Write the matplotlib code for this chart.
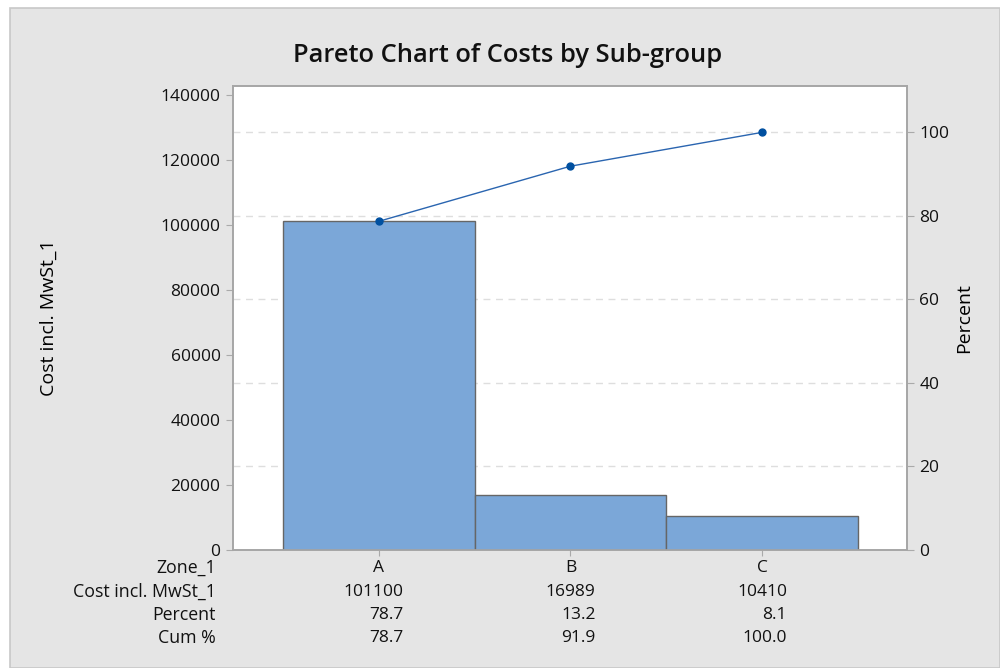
import matplotlib
matplotlib.use("Agg")
import matplotlib.pyplot as plt
from matplotlib.patches import Rectangle
import numpy as np

categories = ["A", "B", "C"]
costs = [101100, 16989, 10410]
percent = [78.7, 13.2, 8.1]
cum_pct = [78.7, 91.9, 100.0]
yticks = [0, 20000, 40000, 60000, 80000, 100000, 120000, 140000]
pticks = [0, 20, 40, 60, 80, 100]

plt.rcParams['font.family'] = ['Open Sans', 'DejaVu Sans']
plt.rcParams['font.weight'] = 'medium'
plt.rcParams['text.color'] = '#111111'
plt.rcParams['ytick.labelcolor'] = '#111111'

W, H = 1000, 668
fig = plt.figure(figsize=(10, 6.68), dpi=100)
fig.patch.set_facecolor('white')
bg = Rectangle((10 / W, 0), 1 - 10 / W, 1 - 8 / H, transform=fig.transFigure,
               facecolor='#e5e5e5', edgecolor='#c8c8c8', linewidth=1.2, zorder=-10)
fig.patches.append(bg)

L, R, T, B = 233, 907, 86, 550
ax = fig.add_axes([L / W, 1 - B / H, (R - L) / W, (B - T) / H])
ax.set_facecolor('white')

total = sum(costs)
ymax = total * 111.1 / 100.0
x = np.arange(len(categories))
# grid lines at percent levels, drawn behind the bars
for p in pticks[1:]:
    ax.axhline(p / 100.0 * total, color='#dedede', linestyle=(0, (5, 4)), linewidth=1.0, zorder=1)
ax.bar(x, costs, width=1.0, color='#7ba7d8', edgecolor='#666666', linewidth=1.0, zorder=3)
ax.set_xlim(-0.761, 2.756)
ax.set_ylim(0, ymax)
ax.set_yticks(yticks)
ax.set_yticklabels([str(v) for v in yticks], fontsize=12.5)
ax.set_xticks(x)
ax.set_xticklabels([])
ax.tick_params(axis='x', length=4, color='#aaaaaa', direction='out')
ax.tick_params(axis='y', length=5, color='#aaaaaa', direction='out', pad=4)
for s in ax.spines.values():
    s.set_color('#a6a6a6')
    s.set_linewidth(1.2)

ax2 = ax.twinx()
ax2.set_ylim(0, ymax / total * 100)
ax2.set_yticks(pticks)
ax2.set_yticklabels([str(v) for v in pticks], fontsize=12.5)
ax2.tick_params(axis='y', length=5, color='#aaaaaa', direction='out', pad=4)
for s in ax2.spines.values():
    s.set_color('#a6a6a6')
    s.set_linewidth(1.2)
ax2.plot(x, cum_pct, color='#2a65b0', linewidth=1.0, marker='o', markersize=5,
         markerfacecolor='#0050a0', markeredgecolor='#0050a0', zorder=5)

ax.set_ylabel('Cost incl. MwSt_1', fontsize=14, labelpad=0)
ax.yaxis.set_label_coords((58 - L) / (R - L), 0.5)
ax2.set_ylabel('Percent', fontsize=14)
ax2.yaxis.set_label_coords((955 - L) / (R - L), 0.5)

fig.text(508 / W, 1 - 56 / H, 'Pareto Chart of Costs by Sub-group', ha='center', va='center',
         fontsize=18.4, fontweight='semibold')

# table
row_y = [568, 592, 615, 638]
row_labels = ['Zone_1', 'Cost incl. MwSt_1', 'Percent', 'Cum %']
for yy, lab in zip(row_y, row_labels):
    fig.text(216 / W, 1 - yy / H, lab, ha='right', va='center', fontsize=12.8)
for i, c in enumerate(categories):
    xc = ax.transData.transform((x[i], 0))[0]
    xr = xc + 25
    fig.text(xc / W, 1 - row_y[0] / H, c, ha='center', va='center', fontsize=12.5)
    fig.text(xr / W, 1 - row_y[1] / H, str(costs[i]), ha='right', va='center', fontsize=12.5)
    fig.text(xr / W, 1 - row_y[2] / H, f"{percent[i]:.1f}", ha='right', va='center', fontsize=12.5)
    fig.text(xr / W, 1 - row_y[3] / H, f"{cum_pct[i]:.1f}", ha='right', va='center', fontsize=12.5)

fig.savefig('out.png', dpi=100, facecolor=fig.get_facecolor())
